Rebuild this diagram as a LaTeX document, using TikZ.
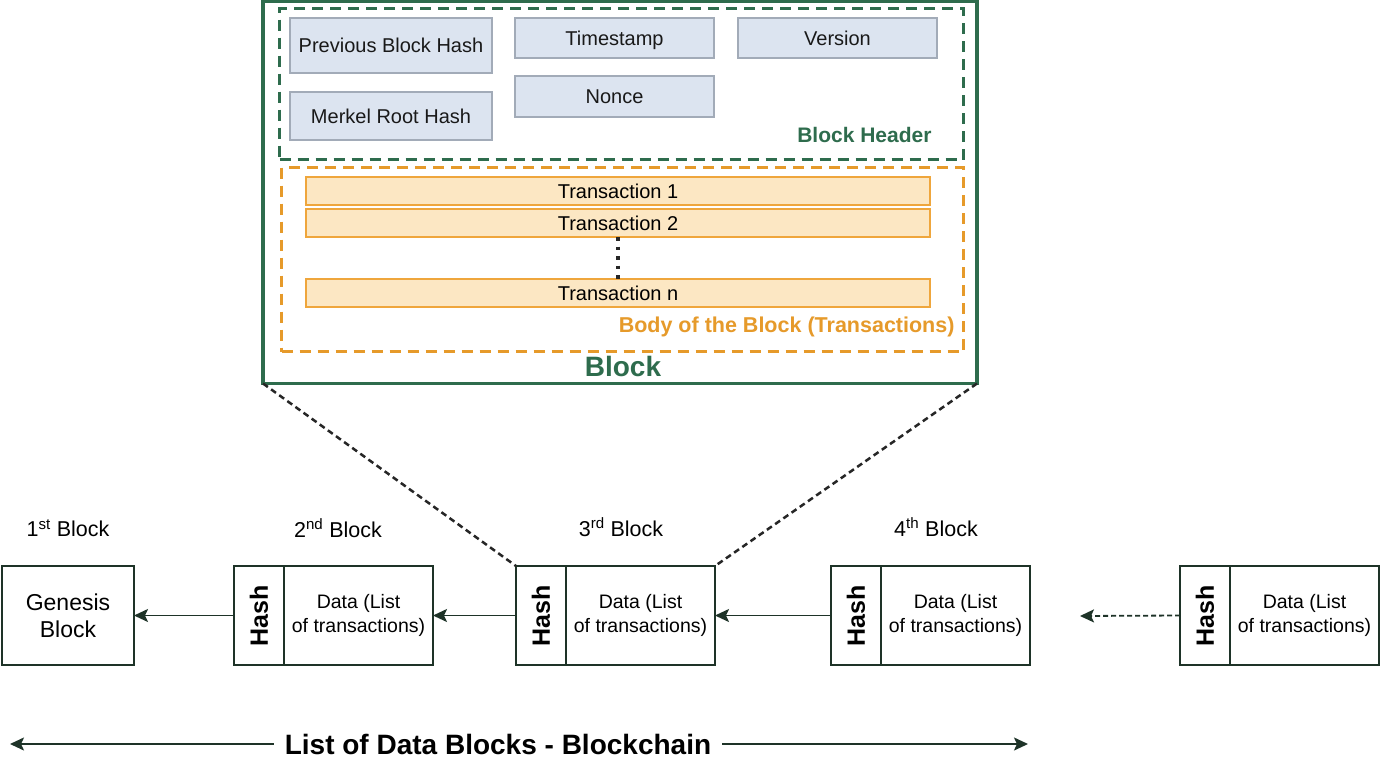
\documentclass[tikz,border=0pt]{standalone}
\usepackage{fontspec}
\setmainfont{Liberation Sans}
\usetikzlibrary{arrows.meta}
\definecolor{bgreen}{HTML}{2E6C4D}
\definecolor{borange}{HTML}{E69A2A}
\definecolor{hfill}{HTML}{DCE4F0}
\definecolor{hdraw}{HTML}{A2ABB8}
\definecolor{tfill}{HTML}{FCE7C3}
\definecolor{tdraw}{HTML}{EFA63C}
\definecolor{chain}{HTML}{1E3328}
\begin{document}
\begin{tikzpicture}[x=1pt,y=-1pt,
  hbox/.style={draw=hdraw,fill=hfill,line width=1.8pt,anchor=north west,inner sep=0pt,outer sep=0pt,font=\fontsize{20}{23}\selectfont,text=black!90},
  tbox/.style={draw=tdraw,fill=tfill,line width=1.8pt,anchor=north west,inner sep=0pt,outer sep=0pt,minimum width=624pt,minimum height=28pt,font=\fontsize{20}{23}\selectfont},
  cbox/.style={draw=chain,line width=1.8pt,anchor=north west,inner sep=0pt,outer sep=0pt,minimum width=199pt,minimum height=99pt},
  hashtxt/.style={rotate=90,font=\bfseries\fontsize{25}{28}\selectfont},
  datatxt/.style={align=center,font=\fontsize{19.5}{23.5}\selectfont},
  lbl/.style={font=\fontsize{21.5}{24}\selectfont},
  arr/.style={draw=chain,line width=1.8pt,-{Stealth[length=14pt,width=13pt,inset=3pt]}},
  zoomline/.style={draw=black!85,line width=2.5pt,dash pattern=on 6pt off 4pt}
]
\useasboundingbox (0,0) rectangle (1382,758);
\fill[white] (0,0) rectangle (1382,758);

% outer block
\node[draw=bgreen,line width=3.5pt,anchor=north west,inner sep=0pt,outer sep=0pt,minimum width=714pt,minimum height=382pt] (blk) at (263,1.5) {};
% header dashed
\node[draw=bgreen,line width=3pt,dash pattern=on 11pt off 7pt,anchor=north west,inner sep=0pt,minimum width=684pt,minimum height=151pt] (hdr) at (278,7) {};
% body dashed
\node[draw=borange,line width=3pt,dash pattern=on 11pt off 7pt,anchor=north west,inner sep=0pt,minimum width=682pt,minimum height=184pt] (body) at (280,166) {};

\node[hbox,minimum width=202pt,minimum height=55pt] (prev) at (290,18) {Previous Block Hash};
\node[hbox,minimum width=199pt,minimum height=40pt,text depth=0pt] (ts) at (515,18) {Timestamp};
\node[hbox,minimum width=199pt,minimum height=40pt,text depth=0pt] (ver) at (738,18) {Version};
\node[hbox,minimum width=202pt,minimum height=48pt] (mrk) at (290,92) {Merkel Root Hash};
\node[hbox,minimum width=199pt,minimum height=41pt] (nonce) at (515,76) {Nonce};
\node[anchor=east,text=bgreen,font=\bfseries\fontsize{21}{23}\selectfont] (hdrlbl) at (935,135) {Block Header};

\node[tbox] (t1) at (306,177) {Transaction 1};
\node[tbox] (t2) at (306,209) {Transaction 2};
\node[tbox] (tn) at (306,279) {Transaction n};
\draw[line width=3.5pt,dash pattern=on 3.5pt off 6pt,black!85] (t2.south) -- (tn.north);
\node[anchor=east,text=borange,font=\bfseries\fontsize{21.5}{24}\selectfont] (bodylbl) at (958,327) {Body of the Block (Transactions)};
\node[text=bgreen,font=\bfseries\fontsize{28}{30}\selectfont] (blklbl) at (623,366) {Block};

% chain
\node[cbox,minimum width=132pt] (gen) at (2,566) {};
\node[datatxt,font=\fontsize{23}{27}\selectfont] (gentxt) at (gen.center) {Genesis\\Block};

\foreach \n/\x in {b2/234,b3/516,b4/831,b5/1180}{
  \node[cbox] (\n) at (\x,566) {};
  \draw[draw=chain,line width=1.8pt] ([xshift=50pt]\n.north west) -- ([xshift=50pt]\n.south west);
  \node[hashtxt] (\n h) at ([xshift=25pt]\n.west) {Hash};
  \node[datatxt] (\n d) at ([xshift=124.5pt]\n.west) {Data (List\\of transactions)};
}

\node[lbl] (l1) at (68,528) {1\textsuperscript{st} Block};
\node[lbl] (l2) at (338,528) {2\textsuperscript{nd} Block};
\node[lbl] (l3) at (621,527) {3\textsuperscript{rd} Block};
\node[lbl] (l4) at (936,527) {4\textsuperscript{th} Block};

\draw[arr] (b2.west) -- (gen.east);
\draw[arr] (b3.west) -- (b2.east);
\draw[arr] (b4.west) -- (b3.east);
\coordinate (gap) at (1080,616);
\draw[arr,dash pattern=on 5pt off 3pt] (b5.west) -- (gap);

\draw[zoomline] (blk.south west) -- (b3.north west);
\draw[zoomline] (blk.south east) -- (b3.north east);

% bottom
\node[font=\bfseries\fontsize{28}{30}\selectfont,inner xsep=11pt,inner ysep=0pt] (chainlbl) at (498,744) {List of Data Blocks - Blockchain};
\coordinate (lend) at (10,744);
\coordinate (rend) at (1028,744);
\draw[arr] (chainlbl.west) -- (lend);
\draw[arr] (chainlbl.east) -- (rend);
\end{tikzpicture}
\end{document}
